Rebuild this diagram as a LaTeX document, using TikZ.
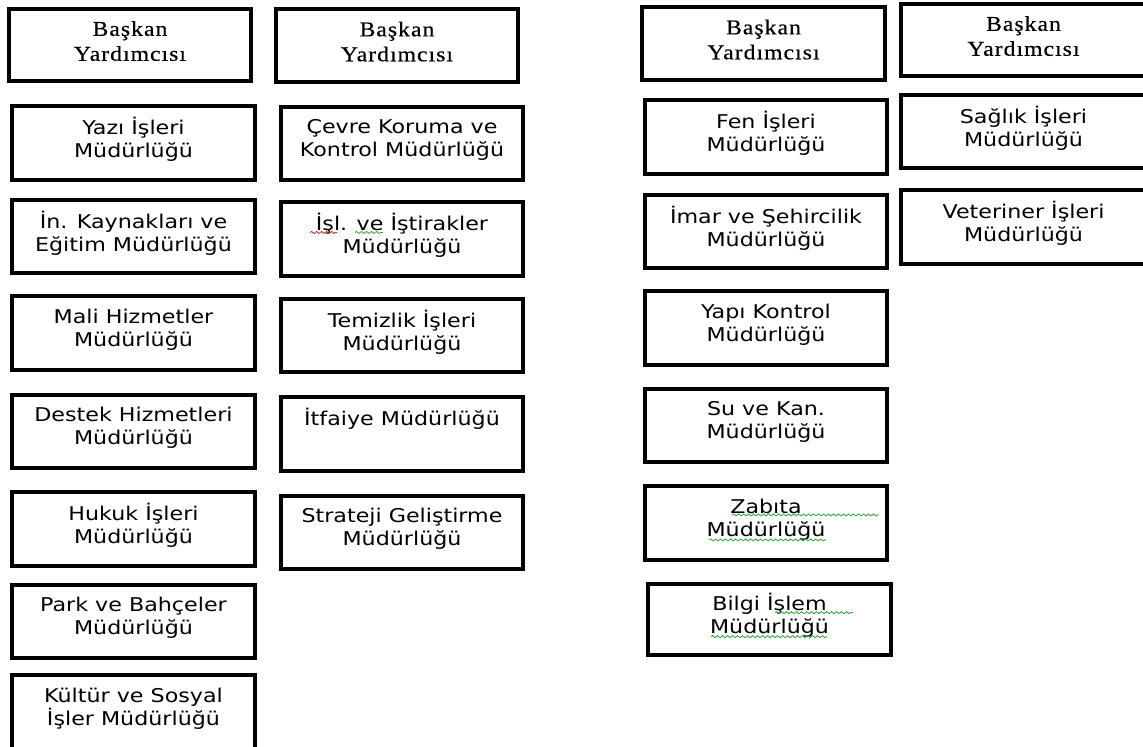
\documentclass[tikz,border=0pt]{standalone}
\usepackage{fontspec}
\newfontfamily\birimfont[FakeStretch=1.17]{DejaVu Sans}
\newfontfamily\baslikfont[FakeStretch=1.12,LetterSpace=5,FakeBold=0.4]{Liberation Serif}
\usetikzlibrary{positioning,calc,decorations.pathmorphing}
\definecolor{imlayesil}{RGB}{60,170,60}
\definecolor{imlakirmizi}{RGB}{220,40,40}

\begin{document}
\begin{tikzpicture}[x=0.02cm,y=-0.02cm]
	\tikzstyle{unit}=[rectangle, draw=black, line width=0.08cm, minimum width=4.86cm, minimum height=1.47cm, inner sep=0pt, align=center,
		font=\birimfont\fontsize{10.8pt}{13.1pt}\selectfont,
		execute at begin node={\rule{0pt}{0.40cm}},
		execute at end node={\rule[-0.22cm]{0pt}{0pt}}]
	\tikzstyle{head}=[rectangle, draw=black, line width=0.08cm, minimum width=4.86cm, minimum height=1.45cm, inner sep=0pt, align=center,
		font=\baslikfont\fontsize{12pt}{14.2pt}\selectfont,
		execute at begin node={\rule{0pt}{0.40cm}},
		execute at end node={\rule[-0.16cm]{0pt}{0pt}}]
	\tikzstyle{hata}=[decorate, decoration={snake, amplitude=0.02cm, segment length=0.1cm}, line width=0.5pt]
	\useasboundingbox (0,0) rectangle (1143,747);
	
	% baskan yardimcilari
	\node[head]                     (h1) at (130,45)     {Başkan\\Yardımcısı};
	\node[head]                     (h2) at (397,45.5)   {Başkan\\Yardımcısı};
	\node[head]                     (h3) at (763.5,43.5) {Başkan\\Yardımcısı};
	\node[head, minimum width=4.9cm] (h4) at (1023.5,40) {Başkan\\Yardımcısı};
	
	% birinci sutun
	\node[unit] (yazi)   at (133.5,143)             {Yazı İşleri\\Müdürlüğü};
	\node[unit] (kaynak) [below=0.32cm of yazi]     {İn. Kaynakları ve\\Eğitim Müdürlüğü};
	\node[unit] (mali)   [below=0.38cm of kaynak]   {Mali Hizmetler\\Müdürlüğü};
	\node[unit] (destek) [below=0.42cm of mali]     {Destek Hizmetleri\\Müdürlüğü};
	\node[unit] (hukuk)  [below=0.40cm of destek]   {Hukuk İşleri\\Müdürlüğü};
	\node[unit] (park)   [below=0.30cm of hukuk]    {Park ve Bahçeler\\Müdürlüğü};
	\node[unit, minimum height=1.6cm, execute at end node={\rule[-0.35cm]{0pt}{0pt}}]
	            (kultur) [below=0.26cm of park]     {Kültür ve Sosyal\\İşler Müdürlüğü};
	
	% ikinci sutun
	\node[unit] (cevre)    at (402,143.5)             {Çevre Koruma ve\\Kontrol Müdürlüğü};
	\node[unit] (istirak)  [below=0.36cm of cevre]    {İşl. ve İştirakler\\Müdürlüğü};
	\node[unit] (temizlik) [below=0.38cm of istirak]  {Temizlik İşleri\\Müdürlüğü};
	\node[unit] (itfaiye)  [below=0.42cm of temizlik] {İtfaiye Müdürlüğü\\~};
	\node[unit] (strateji) [below=0.42cm of itfaiye]  {Strateji Geliştirme\\Müdürlüğü};
	
	% ucuncu sutun
	\node[unit] (fen)    at (766,137)             {Fen İşleri\\Müdürlüğü};
	\node[unit] (imar)   [below=0.34cm of fen]    {İmar ve Şehircilik\\Müdürlüğü};
	\node[unit] (yapi)   [below=0.38cm of imar]   {Yapı Kontrol\\Müdürlüğü};
	\node[unit] (su)     [below=0.40cm of yapi]   {Su ve Kan.\\Müdürlüğü};
	\node[unit] (zabita) [below=0.40cm of su]     {Zabıta\\Müdürlüğü};
	\node[unit, minimum height=1.42cm] (bilgi) [below=0.40cm of zabita, xshift=0.07cm] {Bilgi İşlem\\Müdürlüğü};
	
	% dorduncu sutun
	\node[unit, minimum width=4.9cm] (saglik)    at (1023.5,131.5)          {Sağlık İşleri\\Müdürlüğü};
	\node[unit, minimum width=4.9cm] (veteriner) [below=0.36cm of saglik]   {Veteriner İşleri\\Müdürlüğü};
	
	% imla cizgileri
	\draw[hata, imlakirmizi] ($(istirak.center)+(-92,-6.5)$) -- ($(istirak.center)+(-65,-6.5)$);
	\draw[hata, imlayesil]   ($(istirak.center)+(-47,-6.5)$) -- ($(istirak.center)+(-19,-6.5)$);
	\draw[hata, imlayesil]   ($(zabita.center)+(-34,-8)$)    -- ($(zabita.center)+(112,-8)$);
	\draw[hata, imlayesil]   ($(zabita.center)+(-57,17)$)    -- ($(zabita.center)+(60,17)$);
	\draw[hata, imlayesil]   ($(bilgi.center)+(5.5,-6.5)$)   -- ($(bilgi.center)+(83.5,-6.5)$);
	\draw[hata, imlayesil]   ($(bilgi.center)+(-58.5,17.5)$) -- ($(bilgi.center)+(57.5,17.5)$);
\end{tikzpicture}
\end{document}
